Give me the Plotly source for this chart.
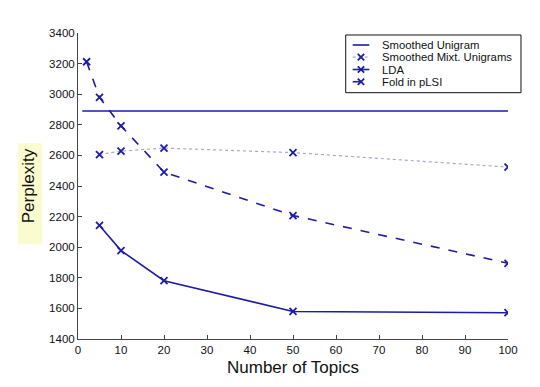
import plotly.graph_objects as go

# ---- data ----
topics_unigram = [1, 100]
perp_unigram = [2890, 2890]

topics_mixt = [5, 10, 20, 50, 100]
perp_mixt = [2605, 2628, 2648, 2618, 2524]

topics_lda = [5, 10, 20, 50, 100]
perp_lda = [2142, 1978, 1781, 1580, 1572]

topics_plsi = [2, 5, 10, 20, 50, 100]
perp_plsi = [3212, 2979, 2793, 2491, 2207, 1895]

x_ticks = list(range(0, 101, 10))
y_ticks = list(range(1400, 3401, 200))

series_names = ["Smoothed Unigram", "Smoothed Mixt. Unigrams", "LDA", "Fold in pLSI"]

BLUE = "#1c1ca6"
LIGHT = "#a8a8cc"
FONT = "Liberation Sans, Arial, sans-serif"

marker = dict(symbol="x-thin", size=7, line=dict(color=BLUE, width=1.8), color=BLUE)

fig = go.Figure()
fig.add_trace(go.Scatter(x=topics_unigram, y=perp_unigram, mode="lines",
                         name=series_names[0],
                         line=dict(color=BLUE, width=1.6)))
fig.add_trace(go.Scatter(x=topics_mixt, y=perp_mixt, mode="lines+markers",
                         name=series_names[1],
                         line=dict(color=LIGHT, width=1.2, dash="dot"),
                         marker=marker))
fig.add_trace(go.Scatter(x=topics_lda, y=perp_lda, mode="lines+markers",
                         name=series_names[2],
                         line=dict(color=BLUE, width=1.6),
                         marker=marker))
fig.add_trace(go.Scatter(x=topics_plsi, y=perp_plsi, mode="lines+markers",
                         name=series_names[3],
                         line=dict(color=BLUE, width=1.6, dash="dash"),
                         marker=marker))

axis_common = dict(
    showgrid=False, zeroline=False, showline=True, linecolor="#444444", linewidth=1,
    ticks="inside", ticklen=4, tickcolor="#444444", mirror=False,
    tickfont=dict(family=FONT, size=11.5, color="#111111"),
)

# ---- compact legend box (Matlab style), drawn in paper coordinates ----
shapes = [
    # highlight behind y title
    dict(type="rect", xref="paper", yref="paper",
         x0=-0.14, x1=-0.083, y0=0.31, y1=0.64,
         fillcolor="#fbfbd0", line=dict(width=0), layer="below"),
    # legend frame
    dict(type="rect", xref="paper", yref="paper",
         x0=0.6226, x1=1.0302, y0=0.8049, y1=0.9935,
         fillcolor="white", line=dict(color="#111111", width=1), layer="above"),
]
annotations = []
entry_y = [0.9608, 0.9212, 0.8807, 0.8408]
line_styles = [(BLUE, 1.6, "solid", False), (LIGHT, 1.2, "dot", True),
               (BLUE, 1.6, "solid", True), (BLUE, 1.6, "dash", True)]
sx0, sx1, sxc = 0.6388, 0.6774, 0.6581
mdx, mdy = 3.2 / 430, 3.2 / 306
for name, ey, (col, w, dash, has_marker) in zip(series_names, entry_y, line_styles):
    shapes.append(dict(type="line", xref="paper", yref="paper",
                       x0=sx0, x1=sx1, y0=ey, y1=ey,
                       line=dict(color=col, width=w, dash=dash), layer="above"))
    if has_marker:
        shapes.append(dict(type="line", xref="paper", yref="paper",
                           x0=sxc - mdx, x1=sxc + mdx, y0=ey - mdy, y1=ey + mdy,
                           line=dict(color=BLUE, width=1.8), layer="above"))
        shapes.append(dict(type="line", xref="paper", yref="paper",
                           x0=sxc - mdx, x1=sxc + mdx, y0=ey + mdy, y1=ey - mdy,
                           line=dict(color=BLUE, width=1.8), layer="above"))
    annotations.append(dict(xref="paper", yref="paper", x=0.7023, y=ey,
                            xanchor="left", yanchor="middle", showarrow=False,
                            text=name, font=dict(family=FONT, size=11.3, color="#111111")))

fig.update_layout(
    width=532, height=379,
    margin=dict(l=70, r=32, t=25, b=48),
    paper_bgcolor="white", plot_bgcolor="white",
    font=dict(family=FONT, color="#111111"),
    xaxis=dict(range=[0, 100], tickvals=x_ticks,
               title=dict(text="Number of Topics", font=dict(family=FONT, size=17), standoff=6),
               **axis_common),
    yaxis=dict(range=[1400, 3400], tickvals=y_ticks,
               title=dict(text="Perplexity", font=dict(family=FONT, size=17), standoff=10),
               **axis_common),
    showlegend=False,
    shapes=shapes,
    annotations=annotations,
)

fig.write_html("out.html")
